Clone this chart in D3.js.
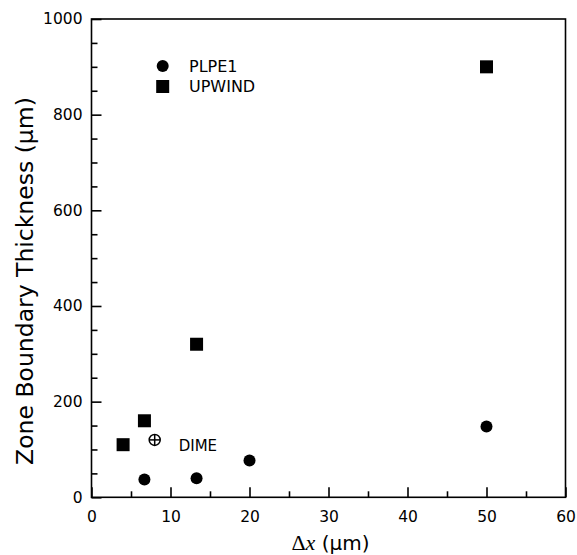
<!DOCTYPE html>
<html>
<head>
<meta charset="utf-8">
<script src="https://cdn.jsdelivr.net/npm/d3@7"></script>
<style>
  html, body { margin: 0; padding: 0; background: #fff; }
  svg { display: block; }
  text { font-family: "DejaVu Sans", Arial, sans-serif; fill: #000; }
</style>
</head>
<body>
<svg id="chart" width="577" height="555"></svg>
<script>
// ---- data ----
const plpeX = [6.7, 13.3, 20, 50];
const plpeY = [37, 40, 77, 148];
const upwindX = [4, 6.7, 13.3, 50];
const upwindY = [110, 160, 320, 900];
const dimeX = [8];
const dimeY = [120];
const dimeLabel = "DIME";
const seriesNames = ["PLPE1", "UPWIND"];
const xMajorTicks = [0, 10, 20, 30, 40, 50, 60];
const xMinorTicks = [5, 15, 25, 35, 45, 55];
const yMajorTicks = [0, 200, 400, 600, 800, 1000];
const yMinorTicks = [50, 100, 150, 250, 300, 350, 450, 500, 550, 650, 700, 750, 850, 900, 950];

// ---- layout ----
const svg = d3.select("#chart");
const L = 91.5, R = 565.5, T = 19, B = 497.3;
const x = d3.scaleLinear().domain([0, 60]).range([L, R]);
const y = d3.scaleLinear().domain([0, 1000]).range([B, T]);

// frame
svg.append("rect").attr("x", L).attr("y", T).attr("width", R - L).attr("height", B - T)
  .attr("fill", "none").attr("stroke", "#000").attr("stroke-width", 1.6);

// ticks (inward)
const gx = svg.append("g").attr("transform", `translate(0,${B})`)
  .call(d3.axisBottom(x).tickValues(xMajorTicks).tickSize(-10).tickPadding(14).tickFormat(d3.format("d")));
const gx2 = svg.append("g").attr("transform", `translate(0,${B})`)
  .call(d3.axisBottom(x).tickValues(xMinorTicks).tickSize(-6).tickFormat(""));
const gy = svg.append("g").attr("transform", `translate(${L},0)`)
  .call(d3.axisLeft(y).tickValues(yMajorTicks).tickSize(-10).tickPadding(9).tickFormat(d3.format("d")));
const gy2 = svg.append("g").attr("transform", `translate(${L},0)`)
  .call(d3.axisLeft(y).tickValues(yMinorTicks).tickSize(-6).tickFormat(""));

[gx, gx2, gy, gy2].forEach(g => {
  g.select(".domain").remove();
  g.selectAll(".tick line").attr("stroke", "#000").attr("stroke-width", 1.6);
  g.selectAll("text").attr("font-family", "DejaVu Sans").attr("font-size", 15.5).attr("fill", "#000");
});

// axis titles
svg.append("text")
  .attr("transform", `translate(33,281) rotate(-90)`)
  .attr("text-anchor", "middle")
  .attr("font-size", 23.5)
  .text("Zone Boundary Thickness (μm)");

const xt = svg.append("text").attr("x", 330.5).attr("y", 549.5).attr("text-anchor", "middle").attr("font-size", 20);
xt.append("tspan").attr("font-family", "Liberation Serif").attr("font-size", 22).text("Δ");
xt.append("tspan").attr("font-family", "Liberation Serif").attr("font-style", "italic").attr("font-size", 22).text("x");
xt.append("tspan").text(" (μm)");

// data marks
const plpe = plpeX.map((v, i) => ({ x: v, y: plpeY[i] }));
const upwind = upwindX.map((v, i) => ({ x: v, y: upwindY[i] }));
const dime = dimeX.map((v, i) => ({ x: v, y: dimeY[i] }));

const sq = 13, cr = 6;
svg.append("g").selectAll("rect").data(upwind).join("rect")
  .attr("x", d => x(d.x) - sq / 2).attr("y", d => y(d.y) - sq / 2)
  .attr("width", sq).attr("height", sq).attr("fill", "#000");

svg.append("g").selectAll("circle").data(plpe).join("circle")
  .attr("cx", d => x(d.x)).attr("cy", d => y(d.y)).attr("r", cr).attr("fill", "#000");

const dg = svg.append("g").selectAll("g").data(dime).join("g")
  .attr("transform", d => `translate(${x(d.x)},${y(d.y)})`);
dg.append("circle").attr("r", 5.5).attr("fill", "none").attr("stroke", "#000").attr("stroke-width", 1.5);
dg.append("line").attr("x1", -5.5).attr("x2", 5.5).attr("stroke", "#000").attr("stroke-width", 1.5);
dg.append("line").attr("y1", -5.5).attr("y2", 5.5).attr("stroke", "#000").attr("stroke-width", 1.5);
svg.append("g").selectAll("text").data(dime).join("text")
  .attr("x", d => x(d.x) + 24).attr("y", d => y(d.y) + 11.5)
  .attr("font-size", 15).text(dimeLabel);

// legend
const leg = svg.append("g");
const legY = [66, 86.5];
leg.append("circle").attr("cx", 162.7).attr("cy", legY[0]).attr("r", cr).attr("fill", "#000");
leg.append("rect").attr("x", 162.7 - sq / 2).attr("y", legY[1] - sq / 2).attr("width", sq).attr("height", sq).attr("fill", "#000");
leg.selectAll("text.lg").data(seriesNames).join("text").attr("class", "lg")
  .attr("x", 189).attr("y", (d, i) => legY[i]).attr("dy", "0.36em")
  .attr("font-family", "Liberation Sans").attr("font-size", 16)
  .text(d => d);
</script>
</body>
</html>
